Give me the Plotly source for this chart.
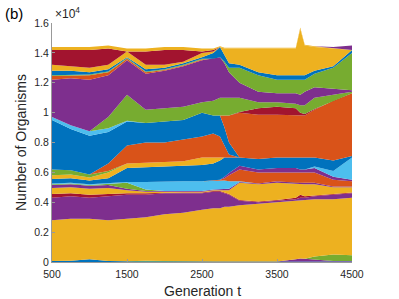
import plotly.graph_objects as go

# Generation sample points
gens = [500, 750, 1000, 1250, 1500, 1750, 2000, 2250, 2500, 2650, 2740, 2800, 2860,
        3000, 3250, 3500, 3750, 3810, 3870, 4000, 4250, 4500]

# Upper edges of each stacked layer (units of 1e4 organisms), bottom -> top
blue_base = [.006, .008, .018, .006, .005, .005, .005, .004, .004, .004, .004, .004, .004, .004, .004, .004, .004, .004, .004, .004, .004, .004]
purple_base = [.006, .008, .018, .006, .005, .005, .005, .004, .004, .004, .004, .004, .004, .004, .004, .004, .018, .024, .022, .018, .006, .006]
green_base = [.006, .008, .018, .006, .005, .009, .007, .004, .004, .004, .004, .004, .004, .004, .004, .004, .018, .024, .022, .036, .050, .046]
yellow_main = [.28, .29, .29, .28, .29, .30, .32, .33, .35, .36, .36, .37, .37, .38, .39, .40, .41, .41, .41, .42, .42, .43]
purple_low = [.43, .44, .43, .44, .45, .45, .46, .46, .46, .47, .47, .46, .45, .41, .40, .41, .42, .43, .43, .44, .45, .46]
red_low = [.455, .46, .45, .455, .46, .46, .465, .465, .465, .475, .475, .465, .455, .415, .405, .415, .43, .45, .44, .445, .455, .465]
yellow_mid = [.495, .50, .49, .495, .48, .47, .47, .47, .47, .48, .48, .475, .48, .53, .52, .53, .52, .52, .52, .52, .50, .50]
purple_mid = [.515, .52, .51, .515, .49, .475, .475, .475, .475, .485, .485, .485, .49, .535, .525, .54, .53, .53, .53, .53, .505, .505]
green_mid = [.52, .525, .515, .525, .53, .485, .475, .475, .475, .485, .485, .485, .49, .535, .525, .54, .53, .53, .53, .53, .505, .505]
ltblue_mid = [.525, .53, .52, .53, .535, .535, .54, .54, .54, .545, .545, .545, .54, .54, .525, .54, .53, .53, .53, .53, .505, .505]
orange_mid = [.525, .53, .52, .53, .535, .535, .54, .54, .54, .545, .55, .56, .58, .62, .60, .60, .60, .60, .60, .60, .55, .54]
purple_mid2 = [.525, .53, .52, .53, .535, .535, .54, .54, .54, .545, .55, .57, .595, .645, .62, .63, .63, .62, .62, .63, .57, .55]
ltblue_right = [.525, .53, .52, .53, .535, .535, .54, .54, .54, .545, .55, .57, .595, .645, .62, .63, .63, .62, .62, .64, .61, .70]
blue_mid = [.555, .56, .545, .56, .63, .635, .64, .645, .65, .66, .68, .70, .70, .70, .69, .70, .70, .70, .70, .70, .68, .71]
yellow_mid2 = [.58, .585, .565, .60, .66, .665, .67, .675, .70, .70, .70, .705, .705, .70, .69, .70, .70, .70, .70, .70, .68, .71]
green_mid2 = [.62, .615, .585, .61, .66, .665, .67, .675, .70, .70, .70, .705, .705, .70, .69, .70, .70, .70, .70, .70, .68, .71]
orange_a = [.62, .615, .585, .66, .78, .80, .80, .82, .84, .86, .84, .78, .72, .70, .69, .70, .70, .70, .70, .70, .68, .71]
blue_main = [.95, .89, .845, .87, .94, .93, .94, .95, 1.00, .98, .98, .90, .80, .70, .69, .70, .70, .70, .70, .70, .68, .71]
ltblue_main = [.97, .915, .875, .895, .945, .93, .94, .95, 1.00, .98, .98, .90, .80, .70, .69, .70, .70, .70, .70, .70, .68, .71]
orange_b = [.97, .915, .875, .895, .945, .93, .94, .95, 1.00, .98, .98, .98, .98, 1.00, .985, .985, .985, .98, .98, 1.02, 1.08, 1.13]
red_mid = [.97, .915, .875, .895, .945, .93, .94, .95, 1.00, .98, .98, .98, .98, 1.005, 1.03, 1.04, 1.03, 1.00, .99, 1.025, 1.08, 1.13]
green_main = [.97, .915, .875, .97, 1.12, 1.02, 1.03, 1.04, 1.07, 1.08, 1.10, 1.10, 1.10, 1.10, 1.07, 1.07, 1.06, 1.05, 1.05, 1.10, 1.12, 1.14]
purple_main = [1.22, 1.23, 1.22, 1.25, 1.35, 1.26, 1.28, 1.31, 1.35, 1.36, 1.37, 1.33, 1.27, 1.20, 1.14, 1.13, 1.13, 1.12, 1.14, 1.17, 1.16, 1.15]
orange_top = [1.245, 1.25, 1.25, 1.27, 1.36, 1.27, 1.285, 1.315, 1.355, 1.36, 1.37, 1.33, 1.27, 1.20, 1.14, 1.13, 1.13, 1.12, 1.14, 1.17, 1.16, 1.15]
green_top = [1.25, 1.255, 1.255, 1.275, 1.365, 1.275, 1.29, 1.32, 1.36, 1.36, 1.37, 1.34, 1.30, 1.30, 1.25, 1.22, 1.22, 1.22, 1.22, 1.26, 1.30, 1.40]
blue_top = [1.28, 1.28, 1.27, 1.29, 1.37, 1.29, 1.30, 1.33, 1.37, 1.40, 1.44, 1.38, 1.33, 1.32, 1.27, 1.25, 1.25, 1.25, 1.25, 1.28, 1.31, 1.42]
yellow_top = [1.32, 1.31, 1.30, 1.32, 1.41, 1.32, 1.32, 1.34, 1.40, 1.41, 1.44, 1.43, 1.43, 1.43, 1.43, 1.43, 1.43, 1.56, 1.45, 1.44, 1.43, 1.42]
red_top = [1.42, 1.42, 1.42, 1.43, 1.41, 1.41, 1.42, 1.42, 1.41, 1.42, 1.44, 1.43, 1.43, 1.43, 1.43, 1.43, 1.43, 1.56, 1.45, 1.44, 1.43, 1.42]
yellow_fringe = [1.44, 1.44, 1.44, 1.45, 1.43, 1.43, 1.44, 1.44, 1.43, 1.43, 1.445, 1.435, 1.435, 1.435, 1.435, 1.435, 1.435, 1.57, 1.455, 1.445, 1.435, 1.42]
purple_fringe = [1.44, 1.44, 1.44, 1.45, 1.43, 1.43, 1.44, 1.44, 1.43, 1.43, 1.445, 1.435, 1.435, 1.435, 1.435, 1.435, 1.435, 1.57, 1.455, 1.445, 1.44, 1.45]

x_ticks = [500, 1500, 2500, 3500, 4500]
y_ticks = [0, 0.2, 0.4, 0.6, 0.8, 1.0, 1.2, 1.4, 1.6]
y_tick_text = ["0", "0.2", "0.4", "0.6", "0.8", "1", "1.2", "1.4", "1.6"]

BLUE, ORANGE, YELLOW, PURPLE = "#0072BD", "#D95319", "#EDB120", "#7E2F8E"
GREEN, LTBLUE, RED = "#77AC30", "#4DBEEE", "#A2142F"

layers = [
    (blue_base, BLUE), (purple_base, PURPLE), (green_base, GREEN),
    (yellow_main, YELLOW), (purple_low, PURPLE), (red_low, RED),
    (yellow_mid, YELLOW), (purple_mid, PURPLE), (green_mid, GREEN),
    (ltblue_mid, LTBLUE), (orange_mid, ORANGE), (purple_mid2, PURPLE),
    (ltblue_right, LTBLUE), (blue_mid, BLUE), (yellow_mid2, YELLOW),
    (green_mid2, GREEN), (orange_a, ORANGE), (blue_main, BLUE),
    (ltblue_main, LTBLUE), (orange_b, ORANGE), (red_mid, RED),
    (green_main, GREEN), (purple_main, PURPLE), (orange_top, ORANGE),
    (green_top, GREEN), (blue_top, BLUE), (yellow_top, YELLOW),
    (red_top, RED), (yellow_fringe, YELLOW), (purple_fringe, PURPLE),
]

fig = go.Figure()
for i, (edge, col) in enumerate(layers):
    fig.add_trace(go.Scatter(
        x=gens, y=edge, mode="lines",
        line=dict(width=0, color=col),
        fill="tozeroy" if i == 0 else "tonexty",
        fillcolor=col, hoverinfo="skip", showlegend=False,
    ))

font = "Liberation Sans, Arial, Helvetica, sans-serif"
fig.update_layout(
    width=399, height=299,
    margin=dict(l=52, r=47, t=23, b=37),
    paper_bgcolor="white", plot_bgcolor="white",
    font=dict(family=font, size=10, color="#262626"),
    xaxis=dict(range=[500, 4500], tickvals=x_ticks, showgrid=False, zeroline=False,
               showline=True, linecolor="#999999", linewidth=1,
               ticks="inside", ticklen=3, tickcolor="#999999",
               ticklabelstandoff=2,
               tickfont=dict(size=10.5, color="#262626")),
    yaxis=dict(range=[0, 1.6], tickvals=y_ticks, ticktext=y_tick_text,
               showgrid=False, zeroline=False,
               showline=True, linecolor="#999999", linewidth=1,
               ticks="inside", ticklen=3, tickcolor="#999999",
               tickfont=dict(size=10.5, color="#262626")),
    annotations=[
        dict(text="Generation t", xref="paper", yref="paper", x=0.5, y=-0.121,
             xanchor="center", yanchor="middle", showarrow=False,
             font=dict(size=14, color="#262626")),
        dict(text="Number of Organisms", xref="paper", yref="paper", x=-0.105, y=0.5,
             xanchor="center", yanchor="middle", textangle=-90, showarrow=False,
             font=dict(size=14, color="#262626")),
        dict(text="×10<sup>4</sup>", xref="paper", yref="paper", x=0.003, y=1.0,
             xanchor="left", yanchor="bottom", showarrow=False,
             font=dict(size=12, color="#262626")),
        dict(text="(b)", xref="paper", yref="paper", x=-0.165, y=1.085,
             xanchor="left", yanchor="top", showarrow=False,
             font=dict(size=15, color="black")),
    ],
)

fig.write_html("out.html", config={"displayModeBar": False},
               post_script="document.body.style.margin='0';")
